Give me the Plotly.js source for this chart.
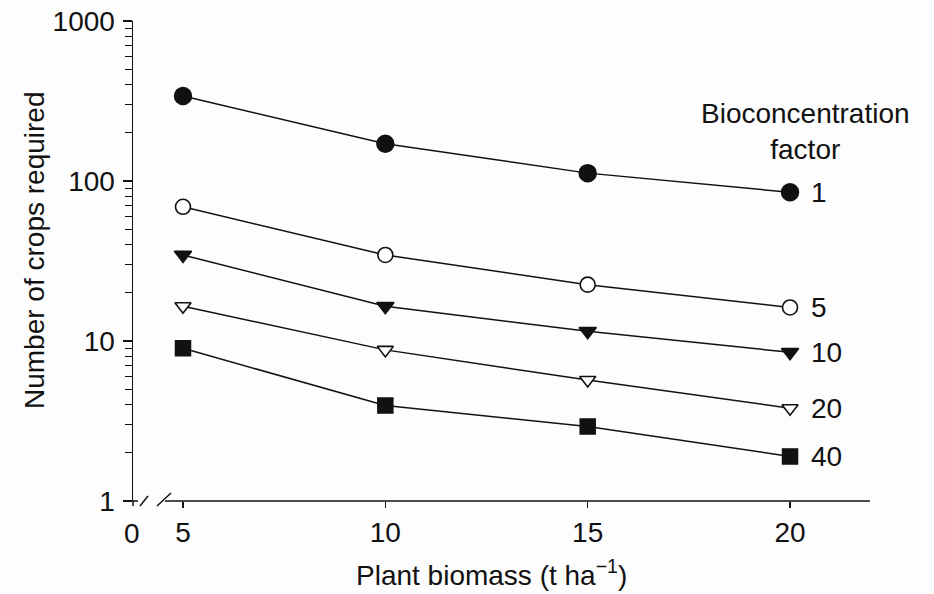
<!DOCTYPE html>
<html>
<head>
<meta charset="utf-8">
<script src="https://cdn.plot.ly/plotly-3.0.1.min.js"></script>
<style>html,body{margin:0;padding:0;background:#fdfdfd;}#chart{width:934px;height:594px;}</style>
</head>
<body>
<div id="chart"></div>
<script>
// Data
const biomass = [5, 10, 15, 20];
const bcfLabels = ["1", "5", "10", "20", "40"];
const crops_bcf1  = [340, 171, 112, 85];
const crops_bcf5  = [69, 34.5, 22.5, 16.2];
const crops_bcf10 = [34.5, 16.5, 11.5, 8.5];
const crops_bcf20 = [16.5, 8.8, 5.7, 3.8];
const crops_bcf40 = [9, 3.95, 2.92, 1.9];
const xTickVals = [5, 10, 15, 20];
const xTickText = ["5", "10", "15", "20"];
const yTickVals = [1, 10, 100, 1000];

const seriesValues = [crops_bcf1, crops_bcf5, crops_bcf10, crops_bcf20, crops_bcf40];
const markerStyles = [
  {symbol: "circle", size: 17, color: "#111", line: {color: "#111", width: 1.5}},
  {symbol: "circle", size: 15, color: "#fff", line: {color: "#111", width: 1.6}},
  {symbol: "triangle-down", size: 15, color: "#111", line: {color: "#111", width: 1.5}},
  {symbol: "triangle-down", size: 14, color: "#fff", line: {color: "#111", width: 1.6}},
  {symbol: "square", size: 15, color: "#111", line: {color: "#111", width: 1.5}}
];

const traces = seriesValues.map((vals, i) => ({
  x: biomass, y: vals, type: "scatter", mode: "lines+markers",
  name: bcfLabels[i], cliponaxis: false,
  line: {color: "#111", width: 1.5},
  marker: markerStyles[i]
}));

// minor ticks for the log axis
const minorVals = [];
[1, 10, 100].forEach(d => { for (let k = 2; k <= 9; k++) minorVals.push(k * d); });

const font = "Liberation Sans, Arial, Helvetica, sans-serif";
const FS = 28;
// x range: axis break between 0 and 5
const xLeft = 3.7645, xRight = 21.976;
const W = 737, H = 480;

const annotations = bcfLabels.map((lab, i) => ({
  x: biomass[biomass.length - 1], y: Math.log10(seriesValues[i][seriesValues[i].length - 1]),
  xref: "x", yref: "y", text: lab, showarrow: false,
  xanchor: "left", yanchor: "middle", xshift: 19,
  font: {family: font, size: FS, color: "#111"}
}));
annotations.push({
  x: 0.912, y: 0.77, xref: "paper", yref: "paper",
  text: "Bioconcentration<br>factor", showarrow: false,
  xanchor: "center", yanchor: "middle", align: "center",
  font: {family: font, size: FS, color: "#111"}
});
// "0" label at the broken origin
annotations.push({
  x: 0, y: 0, xref: "paper", yref: "paper", text: "0", showarrow: false,
  xanchor: "center", yanchor: "middle", xshift: -1, yshift: -32,
  font: {family: font, size: FS, color: "#111"}
});
// axis titles
annotations.push({
  x: (491 - 133) / W, y: -(573 - 501) / H, xref: "paper", yref: "paper",
  text: "Plant biomass (t ha<sup>−1</sup>)", showarrow: false,
  xanchor: "center", yanchor: "middle",
  font: {family: font, size: FS, color: "#111"}
});
annotations.push({
  x: -(133 - 35) / W, y: (501 - 251) / H, xref: "paper", yref: "paper",
  text: "Number of crops required", showarrow: false, textangle: -90,
  xanchor: "center", yanchor: "middle",
  font: {family: font, size: FS, color: "#111"}
});

const shapes = [
  {type: "line", xref: "paper", yref: "paper", x0: 0, x1: 0, y0: 0, y1: -5 / H, line: {color: "#111", width: 1.5}},
  {type: "line", xref: "paper", yref: "paper", x0: 0, x1: 5 / W, y0: 0, y1: 0, line: {color: "#111", width: 1.5}},
  {type: "line", xref: "paper", yref: "paper", x0: 7 / W, x1: 15 / W, y0: -5 / H, y1: 5 / H, line: {color: "#111", width: 1.5}},
  {type: "line", xref: "paper", yref: "paper", x0: 24 / W, x1: 38 / W, y0: -5 / H, y1: 8 / H, line: {color: "#111", width: 1.5}},
  {type: "line", xref: "paper", yref: "paper", x0: 32 / W, x1: 1, y0: 0, y1: 0, line: {color: "#111", width: 1.5}}
];

const layout = {
  width: 934, height: 594,
  margin: {l: 133, r: 64, t: 21, b: 93, pad: 0},
  paper_bgcolor: "#fdfdfd", plot_bgcolor: "#fdfdfd",
  showlegend: false,
  font: {family: font, size: FS, color: "#111"},
  xaxis: {
    range: [xLeft, xRight], showline: false, zeroline: false, showgrid: false,
    tickmode: "array", tickvals: xTickVals, ticktext: xTickText,
    ticks: "outside", ticklen: 6, tickwidth: 1.5, tickcolor: "#111",
    ticklabelstandoff: 0,
    tickfont: {family: font, size: FS, color: "#111"}
  },
  yaxis: {
    type: "log", range: [0, 3], showline: true, linecolor: "#111", linewidth: 1.5,
    zeroline: false, showgrid: false,
    tickmode: "array", tickvals: yTickVals, ticktext: yTickVals.map(String),
    ticks: "outside", ticklen: 9, tickwidth: 1.5, tickcolor: "#111",
    ticklabelstandoff: 2,
    tickfont: {family: font, size: FS, color: "#111"},
    minor: {tickmode: "array", tickvals: minorVals, ticks: "outside", ticklen: 7, tickwidth: 1.2, tickcolor: "#111", showgrid: false}
  },
  annotations: annotations,
  shapes: shapes
};

Plotly.newPlot("chart", traces, layout, {displayModeBar: false, staticPlot: true});
</script>
</body>
</html>
